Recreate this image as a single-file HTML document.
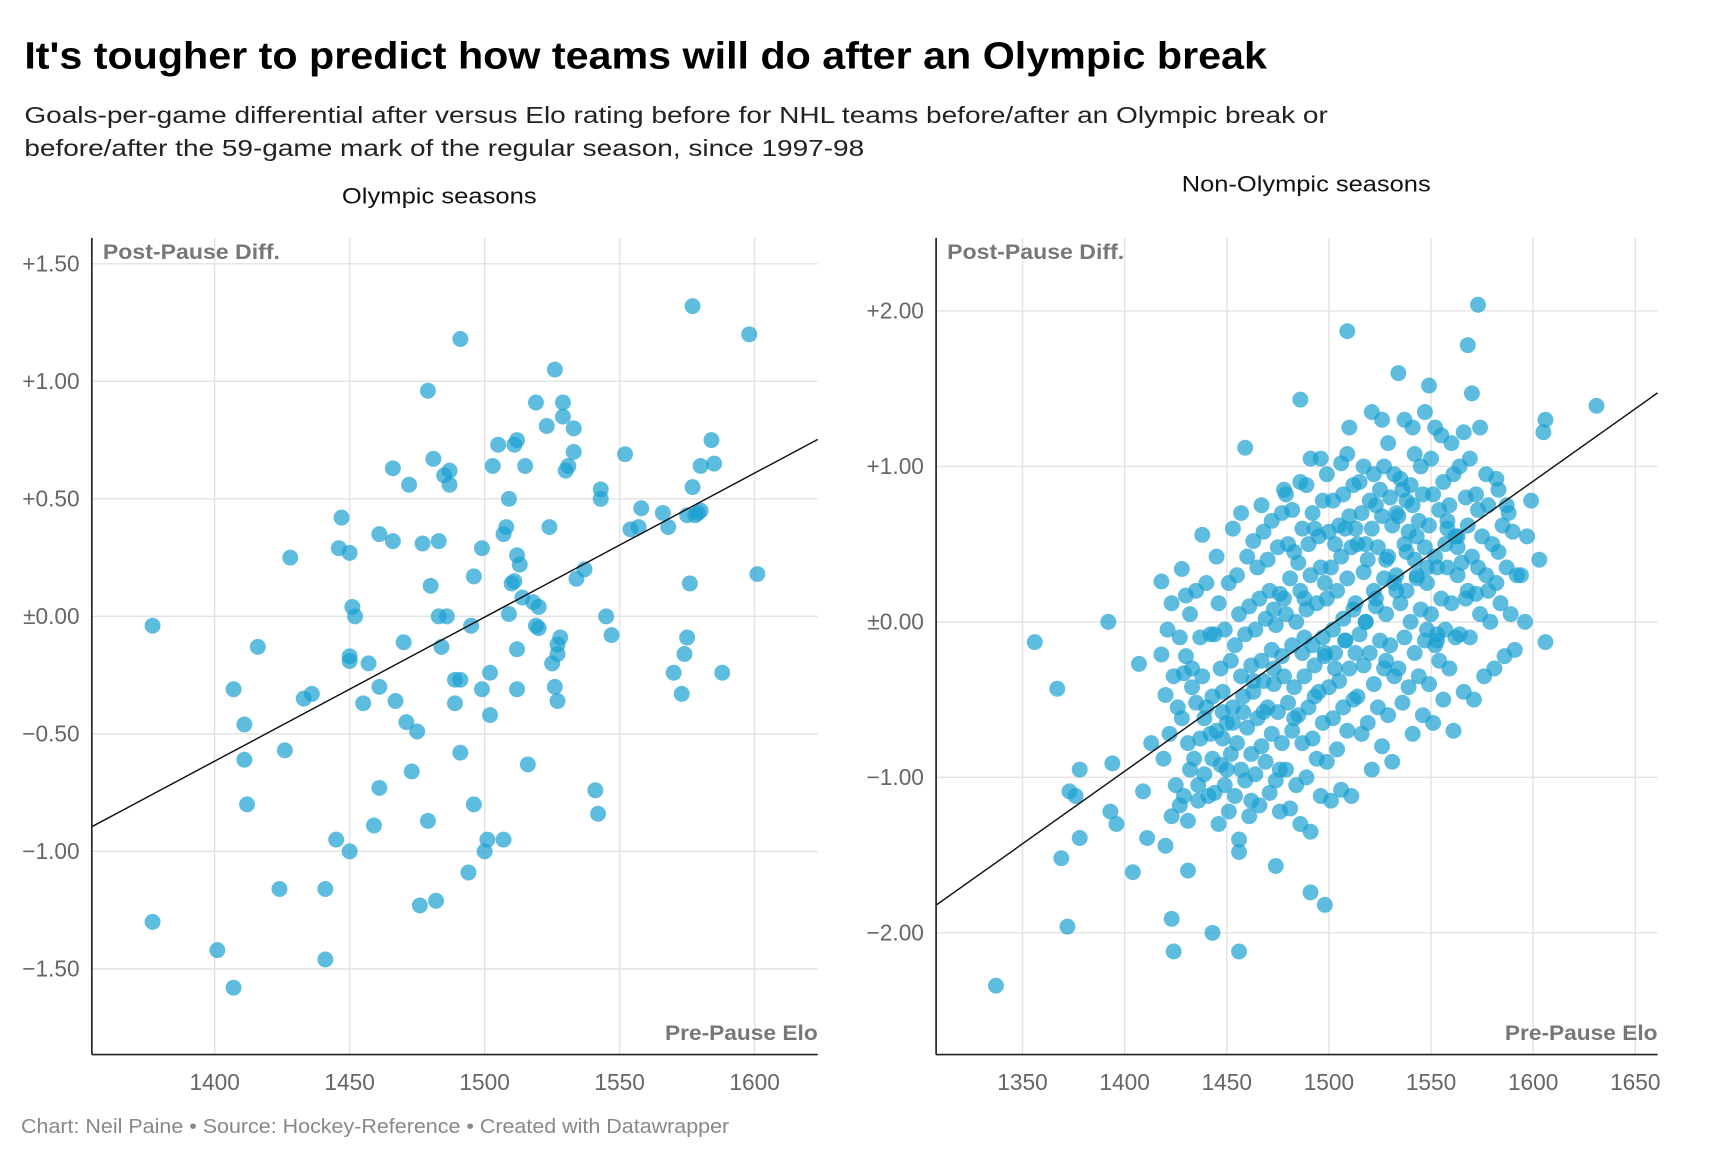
<!DOCTYPE html>
<html><head><meta charset="utf-8"><style>
html,body{margin:0;padding:0;background:#fff;}
svg{display:block;font-family:"Liberation Sans",sans-serif;}
</style></head><body>
<svg id="c" width="1735" height="1158" viewBox="0 0 1568 1046.5">
<text x="22" y="62" font-size="34" font-weight="bold" fill="#000" textLength="1123" lengthAdjust="spacingAndGlyphs">It's tougher to predict how teams will do after an Olympic break</text>
<text x="22" y="111" font-size="21" fill="#222" textLength="1178" lengthAdjust="spacingAndGlyphs">Goals-per-game differential after versus Elo rating before for NHL teams before/after an Olympic break or</text>
<text x="22" y="141" font-size="21" fill="#222" textLength="759" lengthAdjust="spacingAndGlyphs">before/after the 59-game mark of the regular season, since 1997-98</text>
<text x="309" y="184" font-size="20" fill="#111" textLength="176" lengthAdjust="spacingAndGlyphs">Olympic seasons</text>
<text x="1068" y="173" font-size="20" fill="#111" textLength="225" lengthAdjust="spacingAndGlyphs">Non-Olympic seasons</text>
<g id="left"></g>
<g id="right"></g>
<text x="19" y="1024" font-size="18" fill="#888" textLength="640" lengthAdjust="spacingAndGlyphs">Chart: Neil Paine • Source: Hockey-Reference • Created with Datawrapper</text>
</svg>
<script>
const olyXTicks=[1400,1450,1500,1550,1600];
const olyYTicks=[1.5,1,0.5,0,-0.5,-1,-1.5];
const olyYLabels=["+1.50","+1.00","+0.50","±0.00","−0.50","−1.00","−1.50"];
const olyTrendElo=[1354.5,1623.4];
const olyTrendDiff=[-0.895,0.753];
const olyPoints=[[1377,-0.04],[1377,-1.30],[1401,-1.42],[1407,-1.58],[1407,-0.31],[1411,-0.46],[1411,-0.61],[1412,-0.80],[1416,-0.13],[1424,-1.16],[1426,-0.57],[1428,0.25],[1433,-0.35],[1436,-0.33],[1441,-1.16],[1441,-1.46],[1445,-0.95],[1446,0.29],[1447,0.42],[1450,-1.00],[1450,-0.17],[1450,-0.19],[1450,0.27],[1451,0.04],[1452,0.00],[1455,-0.37],[1457,-0.20],[1459,-0.89],[1461,-0.30],[1461,-0.73],[1461,0.35],[1466,0.63],[1466,0.32],[1467,-0.36],[1470,-0.11],[1471,-0.45],[1472,0.56],[1475,-0.49],[1473,-0.66],[1476,-1.23],[1477,0.31],[1479,0.96],[1479,-0.87],[1480,0.13],[1481,0.67],[1482,-1.21],[1483,0.32],[1483,0.00],[1484,-0.13],[1485,0.60],[1486,0.00],[1487,0.56],[1487,0.62],[1489,-0.27],[1489,-0.37],[1491,-0.27],[1491,-0.58],[1491,1.18],[1494,-1.09],[1495,-0.04],[1496,0.17],[1496,-0.80],[1499,0.29],[1499,-0.31],[1500,-1.00],[1501,-0.95],[1502,-0.24],[1502,-0.42],[1503,0.64],[1505,0.73],[1507,0.35],[1507,-0.95],[1508,0.38],[1509,0.50],[1509,0.01],[1510,0.14],[1511,0.73],[1511,0.15],[1512,-0.14],[1512,-0.31],[1512,0.75],[1512,0.26],[1513,0.22],[1514,0.08],[1515,0.64],[1516,-0.63],[1518,0.06],[1519,0.91],[1519,-0.04],[1520,0.04],[1520,-0.05],[1523,0.81],[1524,0.38],[1525,-0.20],[1526,-0.30],[1526,1.05],[1527,-0.12],[1527,-0.36],[1527,-0.16],[1528,-0.09],[1529,0.91],[1529,0.85],[1530,0.62],[1531,0.64],[1533,0.70],[1534,0.16],[1533,0.80],[1537,0.20],[1541,-0.74],[1542,-0.84],[1543,0.54],[1543,0.50],[1545,0.00],[1547,-0.08],[1552,0.69],[1554,0.37],[1557,0.38],[1558,0.46],[1566,0.44],[1568,0.38],[1570,-0.24],[1573,-0.33],[1574,-0.16],[1575,-0.09],[1575,0.43],[1576,0.14],[1577,1.32],[1577,0.55],[1578,0.43],[1579,0.44],[1580,0.64],[1580,0.45],[1584,0.75],[1585,0.65],[1588,-0.24],[1598,1.20],[1601,0.18]];

const nonXTicks=[1350,1400,1450,1500,1550,1600,1650];
const nonYTicks=[2,1,0,-1,-2];
const nonYLabels=["+2.00","+1.00","±0.00","−1.00","−2.00"];
const nonTrendElo=[1307.7,1660.9];
const nonTrendDiff=[-1.822,1.473];
const nonPoints=[[1337,-2.34],[1356,-0.13],[1367,-0.43],[1369,-1.52],[1372,-1.96],[1373,-1.09],[1376,-1.12],[1378,-1.39],[1378,-0.95],[1392,0.00],[1393,-1.22],[1394,-0.91],[1396,-1.30],[1404,-1.61],[1407,-0.27],[1409,-1.09],[1411,-1.39],[1413,-0.78],[1418,0.26],[1418,-0.21],[1419,-0.88],[1420,-1.44],[1420,-0.47],[1421,-0.05],[1423,-1.91],[1424,-2.12],[1428,0.34],[1429,-0.33],[1431,-1.60],[1430,0.17],[1438,0.56],[1443,-2.00],[1456,-2.12],[1459,1.12],[1486,1.43],[1509,1.87],[1573,2.04],[1568,1.78],[1631,1.39],[1606,1.30],[1605,1.22],[1606,-0.13],[1599,0.78],[1498,-1.82],[1491,-1.74],[1474,-1.57],[1456,-1.48],[1570,1.47],[1534,1.60],[1549,1.52],
[1423,-1.25],[1427,-1.18],[1425,-1.05],[1422,-0.72],[1426,-0.55],[1424,-0.35],[1427,-0.10],[1423,0.12],
[1431,-1.28],[1429,-1.12],[1432,-0.95],[1428,-0.62],[1433,-0.42],[1430,-0.22],[1432,0.05],[1431,-0.78],
[1436,-1.05],[1434,-0.88],[1437,-0.75],[1435,-0.52],[1433,-0.30],[1437,-0.10],[1435,0.20],[1436,-1.15],
[1441,-1.12],[1439,-0.98],[1442,-0.72],[1440,-0.55],[1438,-0.35],[1442,-0.08],[1440,0.25],[1443,-0.88],[1439,-0.62],
[1446,-1.30],[1444,-1.10],[1447,-0.92],[1445,-0.70],[1443,-0.48],[1447,-0.30],[1444,-0.08],[1446,0.12],[1445,0.42],[1448,-0.58],
[1451,-1.22],[1449,-1.05],[1452,-0.85],[1450,-0.65],[1448,-0.45],[1452,-0.25],[1449,-0.05],[1451,0.25],[1453,0.60],[1450,-0.95],[1448,-0.75],
[1456,-1.40],[1454,-1.12],[1457,-0.95],[1455,-0.78],[1453,-0.55],[1457,-0.35],[1454,-0.15],[1456,0.05],[1455,0.30],[1457,0.70],[1453,-0.65],
[1461,-1.25],[1459,-1.02],[1462,-0.85],[1460,-0.68],[1458,-0.48],[1462,-0.28],[1459,-0.08],[1461,0.10],[1460,0.42],[1463,0.52],[1458,-0.58],[1462,-1.15],
[1466,-1.18],[1464,-0.98],[1467,-0.80],[1465,-0.62],[1463,-0.45],[1467,-0.25],[1464,-0.05],[1466,0.15],[1465,0.35],[1467,0.75],[1463,-0.38],[1468,0.58],
[1471,-1.10],[1469,-0.90],[1472,-0.72],[1470,-0.55],[1468,-0.38],[1472,-0.18],[1469,0.02],[1471,0.20],[1470,0.40],[1472,0.65],[1468,-0.58],[1473,0.08],
[1476,-1.22],[1474,-1.02],[1477,-0.78],[1475,-0.58],[1473,-0.40],[1477,-0.22],[1474,-0.02],[1476,0.18],[1475,0.48],[1477,0.70],[1478,0.85],[1473,-0.30],[1476,-0.95],
[1481,-1.20],[1479,-0.95],[1482,-0.70],[1480,-0.52],[1478,-0.35],[1482,-0.15],[1479,0.05],[1481,0.28],[1480,0.50],[1482,0.72],[1479,0.82],[1483,-0.62],[1478,0.15],
[1486,-1.30],[1484,-1.05],[1487,-0.78],[1485,-0.60],[1483,-0.42],[1487,-0.20],[1484,0.00],[1486,0.20],[1485,0.38],[1487,0.60],[1486,0.90],[1488,-0.10],[1483,0.45],
[1491,-1.35],[1489,-1.00],[1492,-0.75],[1490,-0.55],[1488,-0.35],[1492,-0.15],[1489,0.08],[1491,0.30],[1490,0.50],[1492,0.70],[1489,0.88],[1491,1.05],[1493,-0.48],[1488,0.15],
[1496,-1.12],[1494,-0.88],[1497,-0.65],[1495,-0.45],[1493,-0.28],[1497,-0.10],[1494,0.12],[1496,0.35],[1495,0.55],[1497,0.78],[1496,1.05],[1498,-0.20],[1493,0.60],
[1501,-1.15],[1499,-0.90],[1502,-0.62],[1500,-0.42],[1498,-0.22],[1502,-0.05],[1499,0.15],[1501,0.35],[1500,0.58],[1502,0.78],[1499,0.95],[1503,-0.30],[1498,0.25],
[1506,-1.08],[1504,-0.82],[1507,-0.55],[1505,-0.38],[1503,-0.20],[1507,0.02],[1504,0.20],[1506,0.42],[1505,0.62],[1507,0.82],[1506,1.02],[1508,-0.12],[1503,0.50],
[1511,-1.12],[1509,-0.70],[1512,-0.50],[1510,-0.30],[1508,-0.12],[1512,0.08],[1509,0.28],[1511,0.48],[1510,0.68],[1512,0.88],[1509,1.08],[1513,-0.20],[1508,0.60],[1510,1.25],
[1516,-0.72],[1514,-0.48],[1517,-0.28],[1515,-0.08],[1513,0.12],[1517,0.32],[1514,0.50],[1516,0.70],[1515,0.90],[1517,1.00],[1518,0.00],[1513,0.60],
[1521,-0.95],[1519,-0.65],[1522,-0.40],[1520,-0.20],[1518,0.00],[1522,0.20],[1519,0.40],[1521,0.60],[1520,0.78],[1522,0.95],[1521,1.35],[1523,0.15],[1518,0.50],
[1526,-0.80],[1524,-0.55],[1527,-0.30],[1525,-0.12],[1523,0.10],[1527,0.28],[1524,0.48],[1526,0.68],[1525,0.85],[1527,1.00],[1526,1.30],[1528,0.40],[1523,0.75],
[1531,-0.90],[1529,-0.60],[1532,-0.35],[1530,-0.15],[1528,0.05],[1532,0.25],[1529,0.42],[1531,0.62],[1530,0.80],[1532,0.95],[1529,1.15],[1533,0.70],[1528,-0.25],
[1536,-0.52],[1534,-0.30],[1537,-0.10],[1535,0.12],[1533,0.30],[1537,0.50],[1534,0.68],[1536,0.85],[1535,0.92],[1537,1.30],[1538,0.78],[1533,0.20],
[1541,-0.72],[1539,-0.42],[1542,-0.20],[1540,0.00],[1538,0.20],[1542,0.40],[1539,0.58],[1541,0.75],[1540,0.88],[1542,1.08],[1541,1.25],[1543,0.30],[1538,0.45],
[1546,-0.60],[1544,-0.35],[1547,-0.12],[1545,0.08],[1543,0.28],[1547,0.48],[1544,0.65],[1546,0.82],[1545,1.00],[1547,1.35],[1548,-0.05],[1543,0.55],
[1551,-0.65],[1549,-0.40],[1552,-0.15],[1550,0.05],[1548,0.25],[1552,0.42],[1549,0.62],[1551,0.82],[1550,1.05],[1552,1.25],[1553,-0.08],[1548,0.35],
[1556,-0.50],[1554,-0.25],[1557,-0.05],[1555,0.15],[1553,0.35],[1557,0.50],[1554,0.72],[1556,0.90],[1555,1.20],[1558,0.65],[1553,-0.12],
[1561,-0.70],[1559,-0.30],[1562,-0.10],[1560,0.12],[1558,0.35],[1562,0.55],[1559,0.75],[1561,0.95],[1560,1.15],[1563,0.30],[1558,0.60],
[1566,-0.45],[1564,-0.08],[1567,0.15],[1565,0.38],[1563,0.55],[1567,0.80],[1564,1.00],[1566,1.22],[1568,0.20],[1563,0.48],
[1571,-0.50],[1569,-0.10],[1572,0.18],[1570,0.42],[1568,0.62],[1572,0.82],[1569,1.05],[1573,0.35],
[1576,-0.35],[1574,0.05],[1577,0.30],[1575,0.55],[1573,0.72],[1577,0.95],[1574,1.25],[1578,0.20],
[1581,-0.30],[1579,0.00],[1582,0.25],[1580,0.50],[1578,0.75],[1582,0.92],[1583,0.45],
[1586,-0.22],[1584,0.12],[1587,0.35],[1585,0.62],[1583,0.85],[1587,0.75],
[1591,-0.18],[1589,0.05],[1592,0.30],[1590,0.58],[1588,0.70],
[1596,0.00],[1594,0.30],[1597,0.55],[1603,0.40]];

const NS='http://www.w3.org/2000/svg';
function mk(parent,tag,attrs){const e=document.createElementNS(NS,tag);for(const k in attrs)e.setAttribute(k,attrs[k]);parent.appendChild(e);return e;}

function panel(gid,xMin,xMax,xOf,yOf,xTicks,yTicks,yLabels,points,trendE,trendD,prefix){
  const g=document.getElementById(gid);
  const top=215,bottom=953;
  yTicks.forEach((v,i)=>{
    const l=mk(g,'line',{x1:xMin,x2:xMax,y1:yOf(v),y2:yOf(v),stroke:'#e3e3e3','stroke-width':1.3});
    
    
    const t=mk(g,'text',{x:xMin-11,y:yOf(v)+7,'font-size':20.5,fill:'#666','text-anchor':'end'});
    t.textContent=yLabels[i];
    
    
  });
  xTicks.forEach(v=>{
    const l=mk(g,'line',{x1:xOf(v),x2:xOf(v),y1:top,y2:bottom,stroke:'#e3e3e3','stroke-width':1.3});
    
    
    const t=mk(g,'text',{x:xOf(v),y:985,'font-size':20.5,fill:'#666','text-anchor':'middle'});
    t.textContent=v;
    
    
  });
  points.forEach(p=>{
    const c=mk(g,'circle',{cx:xOf(p[0]),cy:yOf(p[1]),r:7.2,fill:'#1a9fd0','fill-opacity':0.7});
    
    
  });
  const tl=mk(g,'line',{x1:xOf(trendE[0]),y1:yOf(trendD[0]),x2:xOf(trendE[1]),y2:yOf(trendD[1]),stroke:'#111','stroke-width':1.3});
  
  
  const ya=mk(g,'line',{x1:xMin,x2:xMin,y1:top,y2:bottom,stroke:'#222','stroke-width':1.5});
  
  
  const xa=mk(g,'line',{x1:xMin,x2:xMax,y1:bottom,y2:bottom,stroke:'#222','stroke-width':1.5});
  
  
  const yt=mk(g,'text',{x:xMin+10,y:234,'font-size':19,'font-weight':'bold',fill:'#777',textLength:160,lengthAdjust:'spacingAndGlyphs'});
  yt.textContent='Post-Pause Diff.';
  
  
  const xt=mk(g,'text',{x:xMax-138,y:940,'font-size':19,'font-weight':'bold',fill:'#777',textLength:138,lengthAdjust:'spacingAndGlyphs'});
  xt.textContent='Pre-Pause Elo';
  
  
}
panel('left',83,739,e=>194+(e-1400)*2.44,v=>557-v*212.4,olyXTicks,olyYTicks,olyYLabels,olyPoints,olyTrendElo,olyTrendDiff,'olympic');
panel('right',846,1498,e=>1201+(e-1500)*1.846,v=>562-v*140.5,nonXTicks,nonYTicks,nonYLabels,nonPoints,nonTrendElo,nonTrendDiff,'non-olympic');
</script>
</body></html>
